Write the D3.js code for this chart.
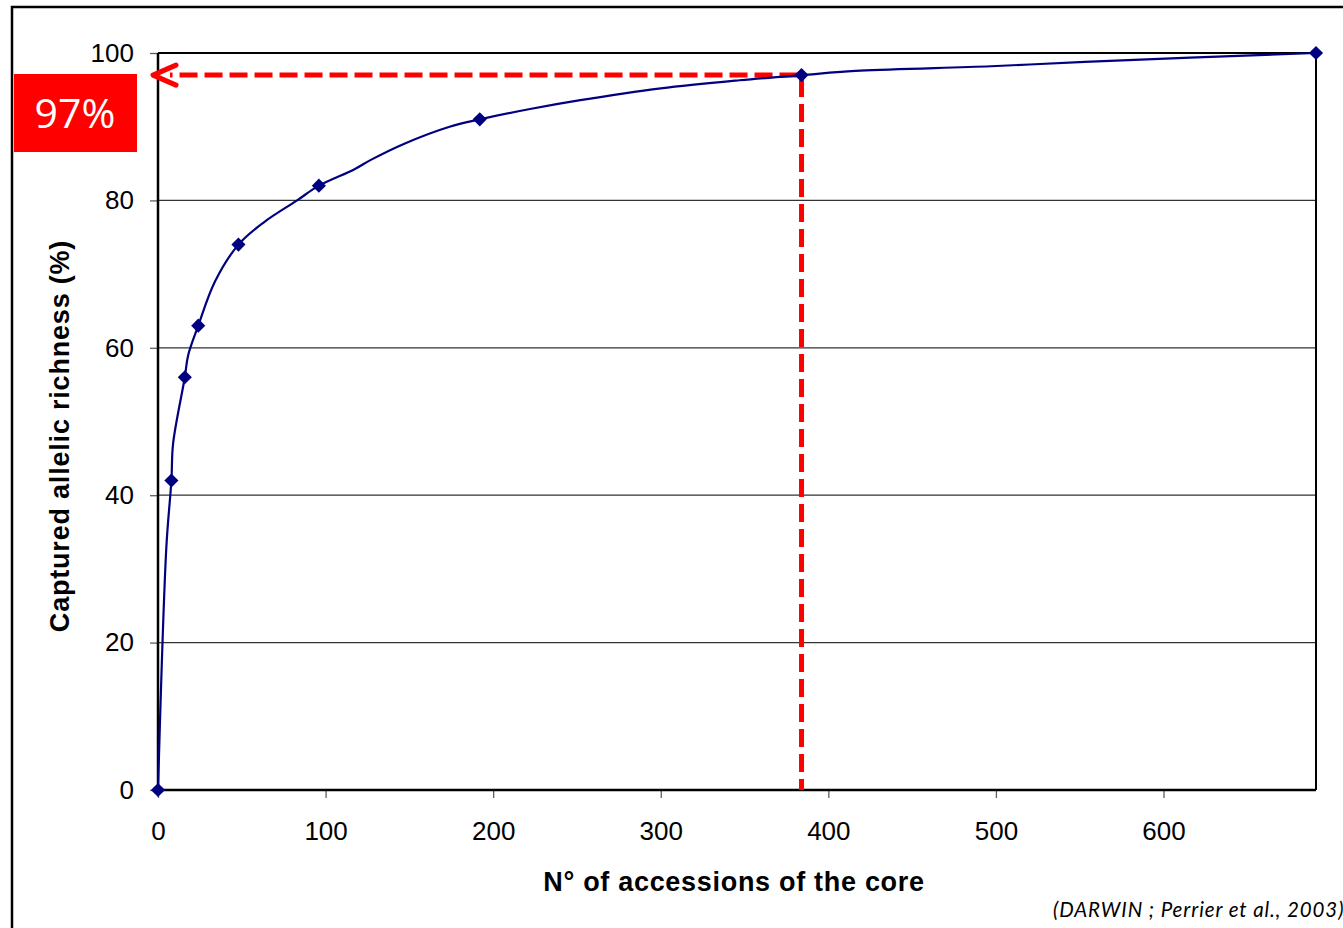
<!DOCTYPE html>
<html>
<head>
<meta charset="utf-8">
<script src="https://cdn.jsdelivr.net/npm/d3@7"></script>
<style>
    body { margin: 0; background: #ffffff; }
    .axis text { font-family: "Liberation Sans", Arial, sans-serif; font-size: 26px; fill: #000; }
    .axis line { stroke: #606060; stroke-width: 1.3px; }
</style>
</head>
<body>
<script>
// marker points (accessions in core, captured richness %)
var markerN = [0, 8, 16, 24, 48, 96, 192, 384, 691];
var markerPct = [0, 42, 56, 63, 74, 82, 91, 97, 100];

// smoothed curve
var curveN = [0, 5, 8, 9, 16, 18, 24, 34, 48, 63, 83, 96, 117, 127, 147, 174, 192, 222, 252, 300, 347, 384, 419, 497, 553, 691];
var curvePct = [0, 33, 42, 47, 56, 59, 63, 69, 74, 77, 80, 82, 84.2, 85.5, 87.7, 90, 91, 92.4, 93.6, 95.2, 96.3, 97, 97.6, 98.2, 98.8, 100];

// axis ticks
var xTicks = [0, 100, 200, 300, 400, 500, 600];
var yTicks = [0, 20, 40, 60, 80, 100];

// highlighted point
var coreN = 384, corePct = 97;

window.onload = function(){

    var w = 1343, h = 928;
    var left = 158, right = 1316, top = 53, bottom = 790;

    var svg = d3.select("body")
        .append("svg")
        .attr("width", w)
        .attr("height", h);

    // outer frame, runs off the right and bottom edges
    svg.append("rect")
        .attr("x", 12)
        .attr("y", 7)
        .attr("width", w + 20)
        .attr("height", h + 20)
        .style("fill", "none")
        .style("stroke", "#000")
        .style("stroke-width", 2.5);

    var x = d3.scaleLinear()
        .domain([0, 691])
        .range([left, right]);

    var y = d3.scaleLinear()
        .domain([0, 100])
        .range([bottom, top]);

    // gridlines
    svg.selectAll(".grid")
        .data(yTicks.filter(function(d){ return d > 0 && d < 100; }))
        .enter()
        .append("line")
        .attr("class", "grid")
        .attr("x1", left)
        .attr("x2", right)
        .attr("y1", function(d){ return y(d); })
        .attr("y2", function(d){ return y(d); })
        .style("stroke", "#333")
        .style("stroke-width", 1.2);

    // axes
    var xAxis = svg.append("g")
        .attr("class", "axis")
        .attr("transform", "translate(0," + bottom + ")")
        .call(d3.axisBottom(x).tickValues(xTicks).tickSize(8).tickPadding(23.5));
    xAxis.select(".domain").remove();

    var yAxis = svg.append("g")
        .attr("class", "axis")
        .attr("transform", "translate(" + left + ",0)")
        .call(d3.axisLeft(y).tickValues(yTicks).tickSize(8).tickPadding(16));
    yAxis.select(".domain").remove();

    // plot border
    svg.append("line").attr("x1", left).attr("x2", right).attr("y1", top).attr("y2", top)
        .style("stroke", "#000").style("stroke-width", 2);
    svg.append("line").attr("x1", right).attr("x2", right).attr("y1", top).attr("y2", bottom)
        .style("stroke", "#000").style("stroke-width", 2);
    svg.append("line").attr("x1", left).attr("x2", left).attr("y1", top).attr("y2", bottom + 1)
        .style("stroke", "#000").style("stroke-width", 2.5);
    svg.append("line").attr("x1", left).attr("x2", right).attr("y1", bottom).attr("y2", bottom)
        .style("stroke", "#000").style("stroke-width", 2.5);

    // red dashed guides
    svg.append("line")
        .attr("x1", x(coreN))
        .attr("x2", x(coreN))
        .attr("y1", y(corePct) + 4)
        .attr("y2", bottom)
        .style("stroke", "#ff0000")
        .style("stroke-width", 5)
        .style("stroke-dasharray", "18,7");

    svg.append("line")
        .attr("x1", x(coreN) - 4)
        .attr("x2", left + 12)
        .attr("y1", y(corePct))
        .attr("y2", y(corePct))
        .style("stroke", "#ff0000")
        .style("stroke-width", 5)
        .style("stroke-dasharray", "18,7");

    // arrow head
    svg.append("path")
        .attr("d", "M" + (left + 18) + "," + (y(corePct) - 10) + " L" + (left - 5) + "," + y(corePct) +
            " L" + (left + 18) + "," + (y(corePct) + 10))
        .style("fill", "none")
        .style("stroke", "#ff0000")
        .style("stroke-width", 5)
        .style("stroke-linecap", "round")
        .style("stroke-linejoin", "round");

    // the curve
    var pts = curveN.map(function(d, i){ return [d, curvePct[i]]; });
    var line = d3.line()
        .x(function(d){ return x(d[0]); })
        .y(function(d){ return y(d[1]); })
        .curve(d3.curveCatmullRom.alpha(0.5));

    svg.append("path")
        .datum(pts)
        .attr("d", line)
        .style("fill", "none")
        .style("stroke", "#000080")
        .style("stroke-width", 2.2);

    // diamond markers
    var diamond = d3.symbol().type(d3.symbolSquare).size(100);
    svg.selectAll(".marker")
        .data(markerN)
        .enter()
        .append("path")
        .attr("class", "marker")
        .attr("d", diamond)
        .attr("transform", function(d, i){
            return "translate(" + x(d) + "," + y(markerPct[i]) + ") rotate(45)";
        })
        .style("fill", "#000080");

    // 97% label box
    svg.append("rect")
        .attr("x", 14)
        .attr("y", 74)
        .attr("width", 123)
        .attr("height", 78)
        .style("fill", "#ff0000");

    svg.append("text")
        .attr("x", 75)
        .attr("y", 128)
        .attr("text-anchor", "middle")
        .style("font-family", "'Open Sans', sans-serif")
        .style("font-size", "41px")
        .style("fill", "#fff")
        .text(corePct + "%");

    // axis titles
    svg.append("text")
        .attr("x", 734)
        .attr("y", 891)
        .attr("text-anchor", "middle")
        .style("font-family", "'Liberation Sans', Arial, sans-serif")
        .style("font-weight", "bold")
        .style("font-size", "27px")
        .style("letter-spacing", "0.7px")
        .text("N° of accessions of the core");

    svg.append("text")
        .attr("transform", "translate(69,436) rotate(-90)")
        .attr("text-anchor", "middle")
        .style("font-family", "'Liberation Sans', Arial, sans-serif")
        .style("font-weight", "bold")
        .style("font-size", "27px")
        .style("letter-spacing", "0.8px")
        .text("Captured allelic richness (%)");

    // source note (cut off at the right edge, as in the original)
    svg.append("text")
        .attr("x", 1053)
        .attr("y", 917)
        .style("font-family", "Lato, sans-serif")
        .style("font-style", "italic")
        .style("font-size", "20.5px")
        .style("letter-spacing", "0.9px")
        .style("fill", "#000")
        .text("(DARWIN ; Perrier et al., 2003)");
};
</script>
</body>
</html>
